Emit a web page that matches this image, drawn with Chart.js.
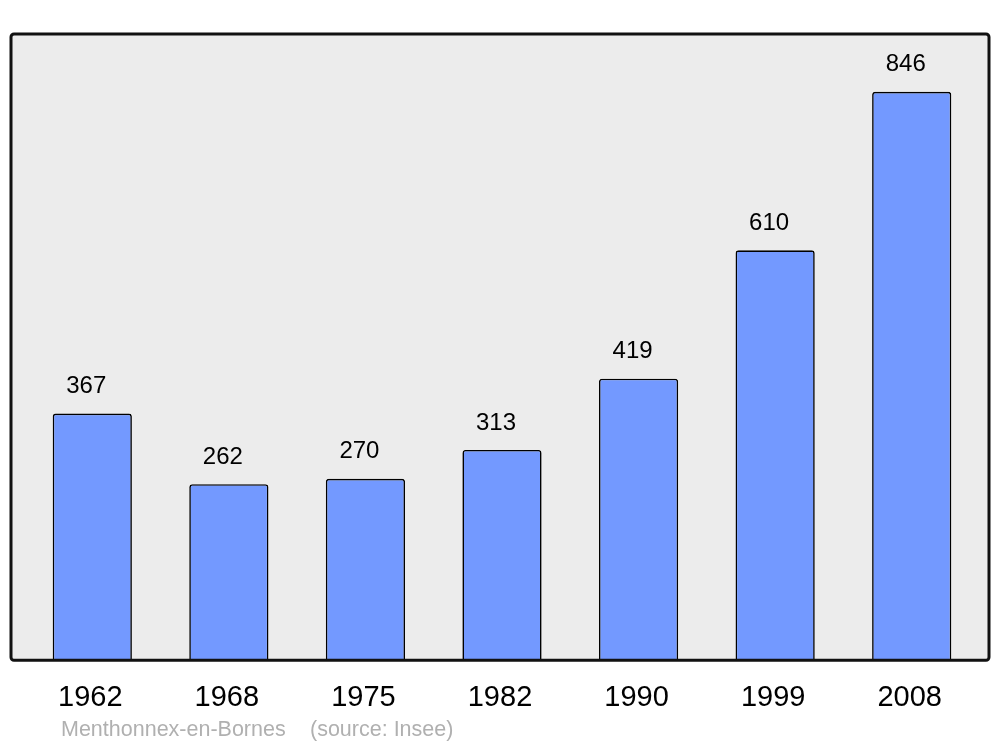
<!DOCTYPE html>
<html>
<head>
<meta charset="utf-8">
<script src="https://cdn.jsdelivr.net/npm/chart.js@4/dist/chart.umd.min.js"></script>
<style>
  html, body { margin: 0; padding: 0; background: #fff; }
  #wrap { width: 1000px; height: 747px; }
</style>
</head>
<body>
<div id="wrap"><canvas id="chart" width="1000" height="747"></canvas></div>
<script>
const years = ["1962", "1968", "1975", "1982", "1990", "1999", "2008"];
const population = [367, 262, 270, 313, 419, 610, 846];
const footerName = "Menthonnex-en-Bornes";
const footerSource = "(source: Insee)";

const FONT = '"Liberation Sans", Arial, sans-serif';

// grey box behind the bars, border drawn after so it sits on top of bar bottoms
const framePlugin = {
  id: "frame",
  beforeDatasetsDraw(chart) {
    const { ctx, chartArea: a } = chart;
    ctx.save();
    ctx.beginPath();
    ctx.roundRect(a.left - 13, a.top, a.right - a.left + 22, a.bottom - a.top, 3);
    ctx.fillStyle = "#ececec";
    ctx.fill();
    ctx.restore();
  },
  afterDatasetsDraw(chart) {
    const { ctx, chartArea: a } = chart;
    ctx.save();
    ctx.beginPath();
    ctx.roundRect(a.left - 13, a.top, a.right - a.left + 22, a.bottom - a.top, 3);
    ctx.lineWidth = 3;
    ctx.strokeStyle = "#111";
    ctx.stroke();

    // value labels
    ctx.fillStyle = "#000";
    ctx.font = "24px " + FONT;
    ctx.textAlign = "center";
    ctx.textBaseline = "middle";
    chart.getDatasetMeta(0).data.forEach((bar, i) => {
      ctx.fillText(String(population[i]), bar.x - 6, bar.y - 27);
    });

    // footer
    ctx.fillStyle = "#b0b0b0";
    ctx.font = "21.5px " + FONT;
    ctx.textAlign = "left";
    ctx.fillText(footerName, 61, 730);
    ctx.fillText(footerSource, 310, 730);
    ctx.restore();
  }
};

new Chart(document.getElementById("chart"), {
  type: "bar",
  data: {
    labels: years,
    datasets: [{
      data: population,
      backgroundColor: "#7399ff",
      borderColor: "#000",
      borderWidth: 1.6,
      borderRadius: 3,
      borderSkipped: "bottom",
      categoryPercentage: 1,
      barPercentage: 0.58
    }]
  },
  options: {
    responsive: false,
    animation: false,
    layout: { padding: { left: 24, right: 20, top: 34, bottom: 12 } },
    plugins: { legend: { display: false }, tooltip: { enabled: false } },
    scales: {
      x: {
        grid: { display: false, drawTicks: false },
        border: { display: false },
        ticks: { color: "#000", font: { family: FONT, size: 29 }, padding: 20, labelOffset: -2 }
      },
      y: { display: false, min: 0, max: 932 }
    }
  },
  plugins: [framePlugin]
});
</script>
</body>
</html>
